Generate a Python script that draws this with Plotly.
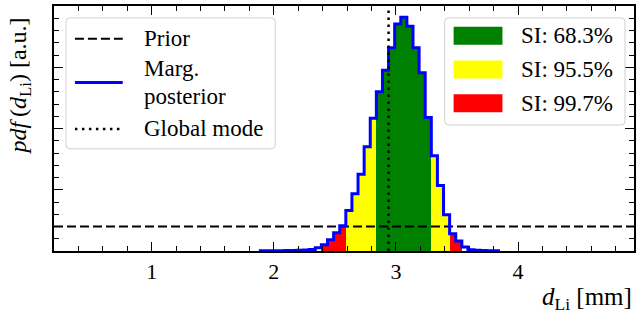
import plotly.graph_objects as go

# Marginal posterior histogram of the Li-layer thickness (bin edges in mm, density in a.u.)
bin_edges = [1.89, 1.94, 1.99, 2.04, 2.09, 2.14, 2.19, 2.24, 2.29, 2.34,
             2.39, 2.44, 2.49, 2.54, 2.59, 2.64, 2.69, 2.74, 2.79, 2.84,
             2.89, 2.94, 2.99, 3.04, 3.09, 3.14, 3.19, 3.24, 3.29, 3.34,
             3.39, 3.44, 3.49, 3.54, 3.59, 3.64, 3.69, 3.74, 3.79, 3.84]
pdf_vals = [0.002, 0.002, 0.002, 0.003, 0.004, 0.005, 0.007, 0.009, 0.012, 0.026,
            0.052, 0.092, 0.148, 0.207, 0.330, 0.467, 0.626, 0.851, 1.083, 1.301,
            1.475, 1.659, 1.854, 1.908, 1.835, 1.659, 1.455, 1.089, 0.778, 0.534,
            0.295, 0.141, 0.081, 0.033, 0.011, 0.007, 0.004, 0.003, 0.002]

prior_level = 0.2
mode_x = 2.94

# Smallest intervals (inner to outer)
si_labels = ["SI: 68.3%", "SI: 95.5%", "SI: 99.7%"]
si_lo = [2.84, 2.59, 2.39]
si_hi = [3.29, 3.44, 3.54]
si_colors = ["#008000", "#ffff00", "#ff0000"]

# Line legend entries
line_labels = ["Prior", "Marg.<br>posterior", "Global mode"]

x_range = [0.2, 4.95]
y_range = [0.0, 2.0]

FONT = "Liberation Serif"
W, H = 640, 325
ML, MR, MT, MB = 54, 4, 4, 74
PW, PH = W - ML - MR, H - MT - MB

PRIOR_STYLE = dict(color="black", width=2, dash="9px,4px")
POST_STYLE = dict(color="#0000ff", width=3)
MODE_STYLE = dict(color="black", width=2.5, dash="2.5px,4.5px")


def px(xp):
    return (xp - ML) / PW


def py(yp):
    return (H - MB - yp) / PH


def rounded_box(x0p, x1p, y0p, y1p, r=4):
    rx, ry = r / PW, r / PH
    X0, X1, Y0, Y1 = px(x0p), px(x1p), py(y0p), py(y1p)
    path = (f"M {X0+rx},{Y0} L {X1-rx},{Y0} Q {X1},{Y0} {X1},{Y0-ry} "
            f"L {X1},{Y1+ry} Q {X1},{Y1} {X1-rx},{Y1} "
            f"L {X0+rx},{Y1} Q {X0},{Y1} {X0},{Y1+ry} "
            f"L {X0},{Y0-ry} Q {X0},{Y0} {X0+rx},{Y0} Z")
    return dict(type="path", path=path, xref="paper", yref="paper",
                line=dict(color="#d0d0d0", width=1), fillcolor="rgba(255,255,255,0.85)", layer="above")


fig = go.Figure()

# Filled interval regions, each bin coloured by the innermost interval containing it
bin_w = bin_edges[1] - bin_edges[0]
for k in range(len(si_labels)):
    xs, ys = [], []
    for i, v in enumerate(pdf_vals):
        left = bin_edges[i]
        inside = si_lo[k] - 1e-9 <= left < si_hi[k] - 1e-9
        inner = k > 0 and si_lo[k - 1] - 1e-9 <= left < si_hi[k - 1] - 1e-9
        if inside and not inner:
            xs.append(left + bin_w / 2)
            ys.append(v)
    fig.add_trace(go.Bar(x=xs, y=ys, width=bin_w, marker=dict(color=si_colors[k], line=dict(width=0)),
                         name=si_labels[k], showlegend=False, hoverinfo="skip"))

# Prior (uniform)
fig.add_trace(go.Scatter(x=x_range, y=[prior_level, prior_level], mode="lines",
                         line=PRIOR_STYLE, name="Prior", showlegend=False))

# Step outline of the marginal posterior
step_x = [bin_edges[0]] + bin_edges[:-1] + [bin_edges[-1], bin_edges[-1]]
step_y = [0] + pdf_vals + [pdf_vals[-1], 0]
fig.add_trace(go.Scatter(x=step_x, y=step_y, mode="lines", line_shape="hv",
                         line=POST_STYLE, name="Marg. posterior", showlegend=False))

# Global mode
fig.add_trace(go.Scatter(x=[mode_x, mode_x], y=y_range, mode="lines",
                         line=MODE_STYLE, name="Global mode", showlegend=False))

shapes = []
annotations = []
txt_font = dict(family=FONT, size=23, color="black")

# Legend box for the lines
shapes.append(rounded_box(66, 276, 16, 148))
line_rows = [37, 81, 128]
for lab, yc, st in zip(line_labels, line_rows, [PRIOR_STYLE, POST_STYLE, MODE_STYLE]):
    shapes.append(dict(type="line", xref="paper", yref="paper", x0=px(75), x1=px(123),
                       y0=py(yc), y1=py(yc), line=st, layer="above"))
    parts = lab.split("<br>")
    if len(parts) == 1:
        annotations.append(dict(text=lab, xref="paper", yref="paper", x=px(142), y=py(yc),
                                xanchor="left", yanchor="middle", showarrow=False, font=txt_font))
    else:
        for j, part in enumerate(parts):
            annotations.append(dict(text=part, xref="paper", yref="paper", x=px(142),
                                    y=py(yc - 14 + 28 * j), xanchor="left", yanchor="middle",
                                    showarrow=False, font=txt_font))

# Legend box for the interval colours
shapes.append(rounded_box(446, 627, 16, 124))
for k, lab in enumerate(si_labels):
    yc = 34 + 34 * k
    shapes.append(dict(type="rect", xref="paper", yref="paper",
                       x0=px(455), x1=px(504), y0=py(yc - 9), y1=py(yc + 9),
                       fillcolor=si_colors[k], line=dict(width=0), layer="above"))
    annotations.append(dict(text=lab, xref="paper", yref="paper", x=px(521), y=py(yc),
                            xanchor="left", yanchor="middle", showarrow=False, font=txt_font))

# Axis titles
annotations.append(dict(text="<i>d</i><sub>Li</sub> [mm]", xref="paper", yref="paper",
                        x=px(636), y=py(299), xanchor="right", yanchor="middle", showarrow=False,
                        font=dict(family=FONT, size=25, color="black")))
annotations.append(dict(text="<i>pdf</i>\u2009(<i>d</i><sub>Li</sub>) [a.u.]", xref="paper", yref="paper",
                        x=px(20), y=py(85), xanchor="center", yanchor="middle", textangle=-90,
                        showarrow=False, font=dict(family=FONT, size=24, color="black")))

axis_common = dict(showgrid=False, zeroline=False, showline=True, linecolor="black", linewidth=1.5,
                   mirror="allticks", ticks="inside", ticklen=9, tickwidth=1.3, tickcolor="black")

fig.update_layout(
    width=W, height=H,
    margin=dict(l=ML, r=MR, t=MT, b=MB),
    paper_bgcolor="white", plot_bgcolor="white",
    barmode="overlay", bargap=0,
    showlegend=False,
    font=dict(family=FONT, size=22, color="black"),
    xaxis=dict(range=x_range, tick0=0, dtick=1, tickfont=dict(family=FONT, size=22),
               minor=dict(dtick=0.2, tick0=0, ticks="inside", ticklen=5, tickcolor="black", tickwidth=1),
               **axis_common),
    yaxis=dict(range=y_range, tick0=0, dtick=0.5, showticklabels=False,
               minor=dict(dtick=0.1, tick0=0, ticks="inside", ticklen=5, tickcolor="black", tickwidth=1),
               **axis_common),
    shapes=shapes,
    annotations=annotations,
)

fig.write_html("out.html")
